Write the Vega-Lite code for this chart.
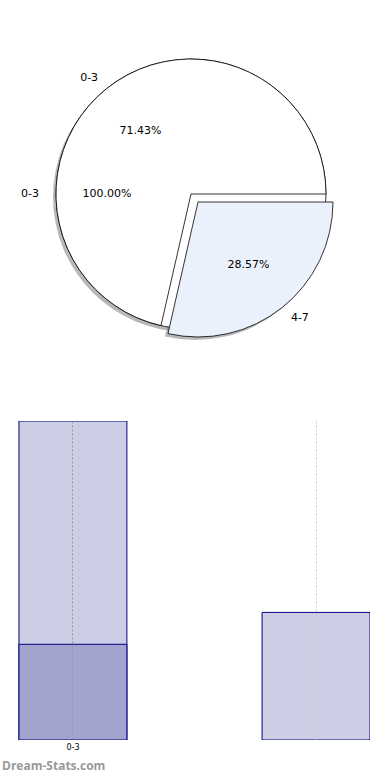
{
  "$schema": "https://vega.github.io/schema/vega-lite/v6.json",
  "padding": {"left": 0, "top": 0, "right": 0, "bottom": 6},
  "spacing": 33,
  "config": {"view": {"stroke": null}, "font": "DejaVu Sans"},
  "vconcat": [
    {
      "width": 382,
      "height": 388,
      "data": {"values": [
        {"pie": "outer", "label": "0-3", "value": 1.0},
        {"pie": "inner", "label": "0-3", "value": 0.7143},
        {"pie": "inner", "label": "4-7", "value": 0.2857}
      ]},
      "encoding": {
        "theta": {"field": "value", "type": "quantitative", "stack": true, "scale": {"domain": [0, 1], "range": [1.5708, 7.854]}},
        "order": {"field": "label", "sort": "descending"}
      },
      "layer": [
        {"transform": [{"filter": "datum.pie=='outer'"}], "mark": {"type": "arc", "radius": 135, "fill": "#888888", "opacity": 0.6, "xOffset": -3, "yOffset": 3}},
        {"transform": [{"filter": "datum.pie=='inner'"}], "mark": {"type": "arc", "radius": 135, "fill": "#888888", "xOffset": 4, "yOffset": 11},
         "encoding": {"opacity": {"condition": {"test": "datum.label=='4-7'", "value": 0.6}, "value": 0}}},
        {"transform": [{"filter": "datum.pie=='outer'"}], "mark": {"type": "arc", "radius": 135, "fill": "white", "stroke": "black", "strokeWidth": 0.8}},
        {"transform": [{"filter": "datum.pie=='inner'"}], "mark": {"type": "arc", "radius": 135, "fill": "white", "stroke": "black", "strokeWidth": 0.8},
         "encoding": {"opacity": {"condition": {"test": "datum.label=='0-3'", "value": 1}, "value": 0}}},
        {"transform": [{"filter": "datum.pie=='inner'"}], "mark": {"type": "arc", "radius": 135, "fill": "#EBF1FC", "stroke": "black", "strokeWidth": 0.8, "xOffset": 7, "yOffset": 8},
         "encoding": {"opacity": {"condition": {"test": "datum.label=='4-7'", "value": 1}, "value": 0}}},
        {"transform": [{"filter": "datum.pie=='inner'"}], "mark": {"type": "text", "radius": 81, "fontSize": 11, "color": "black"},
         "encoding": {"text": {"field": "value", "type": "quantitative", "format": ".2%"}, "opacity": {"condition": {"test": "datum.label=='0-3'", "value": 1}, "value": 0}}},
        {"transform": [{"filter": "datum.pie=='inner'"}], "mark": {"type": "text", "radius": 81, "fontSize": 11, "color": "black", "dx": 7, "dy": 8},
         "encoding": {"text": {"field": "value", "type": "quantitative", "format": ".2%"}, "opacity": {"condition": {"test": "datum.label=='4-7'", "value": 1}, "value": 0}}},
        {"transform": [{"filter": "datum.pie=='inner'"}], "mark": {"type": "text", "radius": 149, "fontSize": 11, "color": "black", "align": "right"},
         "encoding": {"text": {"field": "label", "type": "nominal"}, "opacity": {"condition": {"test": "datum.label=='0-3'", "value": 1}, "value": 0}}},
        {"transform": [{"filter": "datum.pie=='inner'"}], "mark": {"type": "text", "radius": 149, "fontSize": 11, "color": "black", "align": "left", "dx": 7, "dy": 8},
         "encoding": {"text": {"field": "label", "type": "nominal"}, "opacity": {"condition": {"test": "datum.label=='4-7'", "value": 1}, "value": 0}}},
        {"transform": [{"filter": "datum.pie=='outer'"}], "mark": {"type": "text", "radius": 84, "fontSize": 11, "color": "black"},
         "encoding": {"text": {"field": "value", "type": "quantitative", "format": ".2%"}}},
        {"transform": [{"filter": "datum.pie=='outer'"}], "mark": {"type": "text", "radius": 152, "fontSize": 11, "color": "black", "align": "right"},
         "encoding": {"text": {"field": "label", "type": "nominal"}}}
      ]
    },
    {
      "width": 370,
      "height": 319,
      "data": {"values": [
        {"group": "0-3", "series": "A", "value": 5},
        {"group": "4-7", "series": "A", "value": 2},
        {"group": "0-3", "series": "B", "value": 1.5}
      ]},
      "mark": {"type": "bar", "stroke": "#000080", "strokeWidth": 1, "clip": true},
      "encoding": {
        "x": {"field": "group", "type": "nominal",
          "scale": {"paddingInner": 0.556, "paddingOuter": 0.039, "align": 1},
          "axis": {"title": null, "labelAngle": 0, "labelFontSize": 8, "labelColor": "black", "labelFont": "DejaVu Sans", "ticks": false, "domain": false, "labelPadding": 3, "grid": true, "gridDash": [2, 2], "gridColor": {"condition": {"test": "datum.value=='0-3'", "value": "#999999"}, "value": "#cccccc"}, "zindex": 1, "labelExpr": "datum.value=='0-3' ? datum.label : ''"}},
        "y": {"field": "value", "type": "quantitative", "stack": null, "scale": {"domain": [0, 5], "nice": false}, "axis": null},
        "color": {"field": "series", "type": "nominal", "scale": {"domain": ["A", "B"], "range": ["#CDCDE5", "#A3A3D0"]}, "legend": null}
      },
      "title": {"text": "Dream-Stats.com", "orient": "bottom", "anchor": "start", "color": "#999999", "fontSize": 12, "fontWeight": "bold", "font": "Open Sans", "offset": 10, "dx": 2}
    }
  ]
}
